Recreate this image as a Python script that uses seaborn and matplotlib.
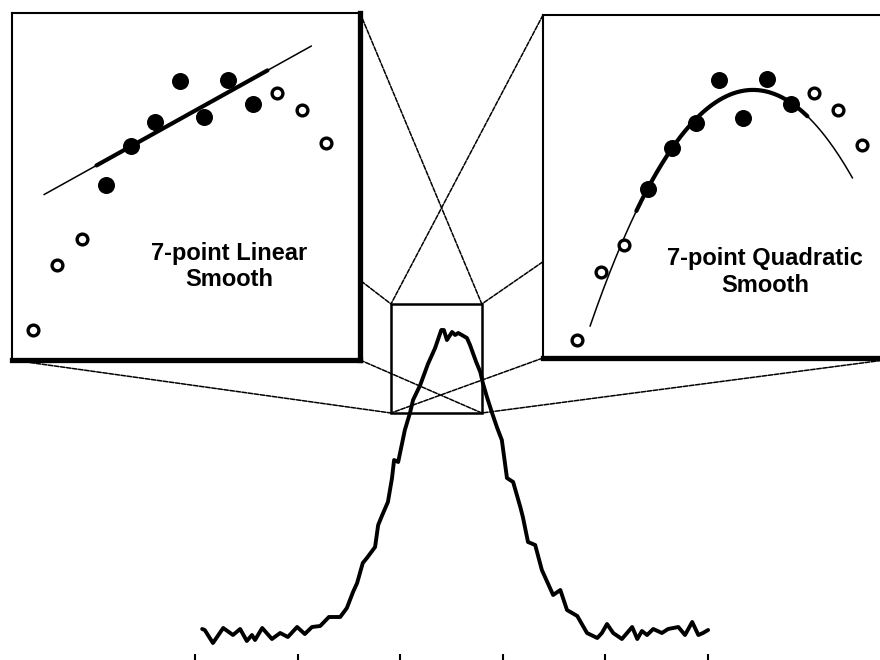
import numpy as np
import matplotlib
matplotlib.use("Agg")
import matplotlib.pyplot as plt
from matplotlib.patches import Rectangle, ConnectionPatch
import seaborn as sns

# ---- spectrum trace: detector channel vs counts ----
channel = [1.4, 1.9, 3.5, 5.5, 7.4, 8.8, 10.1, 11.1, 11.7, 13.1, 15.0, 16.6, 18.1,
           19.9, 21.4, 22.8, 24.4, 26.1, 28.3, 29.6, 30.8, 31.6, 32.7, 33.5, 35.1,
           35.7, 36.5, 37.6, 38.4, 38.8, 39.6, 40.9, 41.9, 42.5, 43.9, 45.4, 46.8,
           48.0, 48.5, 49.1, 50.1, 50.7, 51.3, 52.0, 53.0, 53.6, 54.8, 55.6, 56.1,
           56.9, 57.9, 58.9, 59.8, 60.8, 62.0, 63.4, 63.9, 64.9, 66.3, 67.6, 69.8,
           71.2, 72.5, 74.5, 76.4, 78.4, 79.3, 80.3, 81.5, 83.2, 85.2, 86.2, 87.1,
           88.1, 89.3, 91.0, 92.2, 94.2, 95.5, 96.9, 98.1, 99.0, 100.0]
counts = [31, 30, 17, 32, 25, 31, 19, 25, 20, 32, 21, 27, 23,
          33, 26, 33, 34, 43, 43, 52, 68, 77, 97, 102, 113,
          135, 145, 158, 182, 200, 198, 230, 247, 260, 275, 296, 312,
          330, 330, 320, 328, 325, 327, 325, 322, 315, 298, 288, 277,
          263, 247, 232, 220, 182, 178, 153, 143, 118, 115, 90, 65,
          70, 50, 44, 27, 22, 27, 36, 27, 21, 33, 21, 29,
          25, 31, 27, 31, 33, 25, 38, 25, 27, 30]

# window around the peak maximum that the two panels enlarge
zoom_channels = (38.2, 55.9)
zoom_counts = (247, 356)

# channel ticks along the bottom
tick_channels = [0, 20, 40, 60, 80, 100]

# thirteen consecutive points near the maximum
window_pos = [0, 1, 2, 3, 4, 5, 6, 7, 8, 9, 10, 11, 12]
window_val = [30, 95, 121, 175, 214, 238, 279, 243, 280, 256, 267, 250, 217]
# the seven points used by the smoothing window
smooth_pos = [3, 4, 5, 6, 7, 8, 9]

panel_titles = ["7-point Linear\nSmooth", "7-point Quadratic\nSmooth"]

sns.set_theme(style="white")
plt.rcParams["font.family"] = ["Liberation Sans", "DejaVu Sans"]

fig = plt.figure(figsize=(8.8, 6.6), dpi=100)
fig.patch.set_facecolor("white")

# ---- main spectrum axes (full figure) ----
ax = fig.add_axes([0, 0, 1, 1])
ax.set_facecolor("none")
ax.set_xlim(-38.0, 133.5)
ax.set_ylim(0, 660)
sns.lineplot(x=channel, y=counts, sort=False, estimator=None, color="black",
             lw=2.8, ax=ax, zorder=3)
for s in ax.spines.values():
    s.set_visible(False)
ax.set_xticks(tick_channels)
ax.set_yticks([])
ax.tick_params(axis="x", direction="in", length=4, width=1.5, color="black",
               labelbottom=False, bottom=True)
ax.grid(False)

# zoom window rectangle
zx0, zx1 = zoom_channels
zy0, zy1 = zoom_counts
ax.add_patch(Rectangle((zx0, zy0), zx1 - zx0, zy1 - zy0, fill=False,
                       ec="black", lw=1.8, zorder=4))

# ---- enlarged panels ----
is_fit = np.isin(window_pos, smooth_pos)
px = np.asarray(window_pos, dtype=float)
py = np.asarray(window_val, dtype=float)


def make_panel(rect, xlim, ylim, order, thin_span, thick_span, title, title_xy,
               thick_sides):
    pax = fig.add_axes(rect, zorder=2)
    pax.set_facecolor("white")
    pax.set_xlim(*xlim)
    pax.set_ylim(*ylim)
    pax.set_xticks([])
    pax.set_yticks([])
    for side, s in pax.spines.items():
        s.set_visible(True)
        s.set_color("black")
        s.set_linewidth(3.8 if side in thick_sides else 1.5)

    coef = np.polyfit(px[is_fit], py[is_fit], order)
    xt = np.linspace(*thin_span, 200)
    xk = np.linspace(*thick_span, 200)
    sns.lineplot(x=xt, y=np.polyval(coef, xt), color="black", lw=1.1,
                 ax=pax, sort=False, estimator=None)
    sns.lineplot(x=xk, y=np.polyval(coef, xk), color="black", lw=3.0,
                 ax=pax, sort=False, estimator=None)

    sns.scatterplot(x=px[~is_fit], y=py[~is_fit], marker="o", s=60,
                    facecolor="white", edgecolor="black", linewidth=2.4,
                    ax=pax, zorder=5)
    sns.scatterplot(x=px[is_fit], y=py[is_fit], marker="o", s=150,
                    color="black", edgecolor="black", linewidth=0,
                    ax=pax, zorder=5)
    pax.text(*title_xy, title, transform=pax.transAxes, ha="center",
             va="center", fontsize=17, fontweight="bold", linespacing=1.2,
             color="black")
    return pax


left = make_panel([12 / 880, 300 / 660, 348 / 880, 347 / 660],
                  (-0.86, 13.39), (0, 347), 1, (0.45, 11.4), (2.6, 9.6),
                  panel_titles[0], (0.625, 0.27), ("right", "bottom"))
right = make_panel([543 / 880, 302 / 660, 357 / 880, 343 / 660],
                   (-1.43, 13.6), (12.7, 341.3), 2, (0.55, 11.6), (2.5, 9.7),
                   panel_titles[1], (0.622, 0.25), ("bottom",))

# ---- guide lines from panel corners to the zoom window ----
corners = [((0, 1), (zx0, zy1)), ((1, 1), (zx1, zy1)),
           ((0, 0), (zx0, zy0)), ((1, 0), (zx1, zy0))]
for pax in (left, right):
    for a, b in corners:
        con = ConnectionPatch(xyA=a, coordsA=pax.transAxes, xyB=b,
                              coordsB=ax.transData, color="black", lw=1.1,
                              linestyle=(0, (3, 1)), zorder=1)
        ax.add_artist(con)

fig.savefig("out.png", dpi=100, facecolor="white")
